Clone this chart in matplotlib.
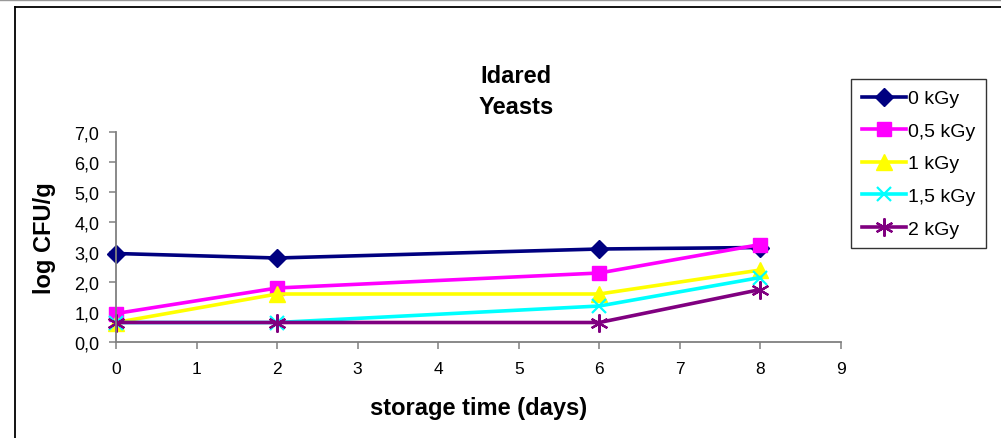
import matplotlib
matplotlib.use("Agg")
import matplotlib.pyplot as plt
from matplotlib.lines import Line2D

plt.rcParams['font.family'] = ['Liberation Sans', 'DejaVu Sans']

days = [0, 2, 6, 8]
series_labels = ["0 kGy", "0,5 kGy", "1 kGy", "1,5 kGy", "2 kGy"]
kgy_0 = [2.95, 2.80, 3.10, 3.15]
kgy_05 = [0.95, 1.80, 2.30, 3.25]
kgy_1 = [0.65, 1.60, 1.60, 2.40]
kgy_15 = [0.65, 0.65, 1.20, 2.15]
kgy_2 = [0.65, 0.65, 0.65, 1.75]
yticks = [0, 1, 2, 3, 4, 5, 6, 7]
xticks = list(range(10))

W, H = 1001, 439
fig = plt.figure(figsize=(W / 100, H / 100), dpi=100)

def fx(px):
    return px / W

def fy(py):
    return 1 - py / H

# outer chart frame (left + top visible)
fig.add_artist(Line2D([fx(15), fx(15)], [fy(439), fy(8)], transform=fig.transFigure,
                      color='black', lw=1.3))
fig.add_artist(Line2D([fx(15), fx(1001)], [fy(8), fy(8)], transform=fig.transFigure,
                      color='black', lw=1.3))
fig.add_artist(Line2D([0, 1], [fy(0.5), fy(0.5)], transform=fig.transFigure,
                      color='#999999', lw=1.0))

left, right, top, bottom = 116, 841, 133, 343
ax = fig.add_axes([fx(left), fy(bottom), fx(right) - fx(left), fy(top) - fy(bottom)])

styles = [
    dict(color='#000080', marker='D', ms=9, mfc='#000080', mec='#000080'),
    dict(color='#FF00FF', marker='s', ms=10, mfc='#FF00FF', mec='#FF00FF'),
    dict(color='#FFFF00', marker='^', ms=11, mfc='#FFFF00', mec='#FFFF00'),
    dict(color='#00FFFF', marker='x', ms=10, mew=1.6),
    dict(color='#800080', marker=(6, 2, 0), ms=13, mew=1.6),
]
all_series = [kgy_0, kgy_05, kgy_1, kgy_15, kgy_2]
handles = []
for vals, lab, st in zip(all_series, series_labels, styles):
    h, = ax.plot(days, vals, lw=2.6, label=lab, clip_on=False, **st)
    handles.append(h)

ax.set_xlim(0, 9)
ax.set_ylim(0, 7)
ax.set_xticks(xticks)
ax.set_xticklabels([str(v) for v in xticks], fontsize=12.5)
ax.set_yticks(yticks)
ax.set_yticklabels([f"{v},0" for v in yticks], fontsize=13)
for s in ['top', 'right']:
    ax.spines[s].set_visible(False)
for s in ['left', 'bottom']:
    ax.spines[s].set_color('#808080')
    ax.spines[s].set_linewidth(1.3)
ax.tick_params(direction='out', length=5, width=1.1, color='#808080', labelcolor='black')
ax.tick_params(axis='x', pad=9)
ax.tick_params(axis='y', pad=7)

ax.set_xlabel("storage time (days)", fontsize=17, fontweight='bold', labelpad=14)
ax.set_ylabel("log CFU/g", fontsize=17, fontweight='bold', labelpad=13)

fig.text(fx(516), fy(92), "Idared\nYeasts", ha='center', va='center', fontsize=17,
         fontweight='bold', linespacing=1.45)

leg = fig.legend(handles=handles, loc='upper left', bbox_to_anchor=(fx(851), fy(80)),
                 fontsize=14, frameon=True, fancybox=False, edgecolor='black',
                 handlelength=2.3, handletextpad=0.1, borderpad=0.55, labelspacing=0.77,
                 borderaxespad=0)
leg.get_frame().set_linewidth(1.0)

fig.savefig("out.png", dpi=100)
